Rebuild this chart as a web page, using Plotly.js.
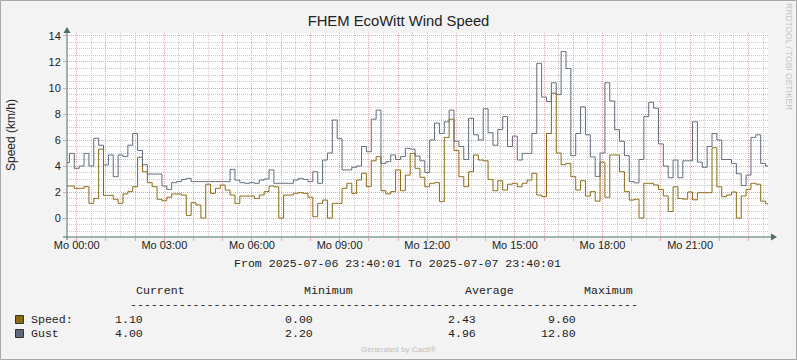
<!DOCTYPE html>
<html><head><meta charset="utf-8">
<script src="https://cdn.plot.ly/plotly-3.0.1.min.js"></script>
<style>html,body{margin:0;padding:0;background:#f3f3f3;} #chart{width:797px;height:360px;}</style>
</head><body><div id="chart"></div>
<script>
// ---- data (10-minute samples starting 2025-07-06 23:40:01) ----
const startTime = Date.UTC(2025, 6, 6, 23, 40, 1);
const stepMinutes = 10;

const speed = [2.46,2.46,2.28,2.28,2.41,1.13,1.5,5.3,1.74,1.74,
1.44,1.13,1.85,2.03,2.41,4.67,3.56,2.72,2.41,1.44,
1.33,1.6,1.85,1.85,1.77,0.2,1.18,1.0,0,2.6,
1.9,2.28,2.54,2.15,1.77,1.13,1.69,1.69,1.69,1.5,
1.77,2.03,2.46,2.4,0,1.77,1.77,1.9,1.95,1.9,
1.6,0.1,1.13,1.38,0,1.13,1.13,2.28,2.67,1.9,
2.92,3.44,2.41,4.4,4.72,2.1,1.85,2.03,3.7,2.1,
3.3,4.97,3.82,3.13,2.41,2.67,2.72,1.26,6.2,7.6,
5.2,3.18,2.41,3.56,4.85,4.46,4.4,2.97,2.1,2.87,
2.15,2.6,2.67,2.4,2.67,2.92,3.44,1.77,1.64,6.5,
9.6,5.0,4.1,4.2,3.18,2.15,2.87,1.69,2.03,1.3,
4.3,1.6,4.85,4.85,3.56,2.03,1.38,1.44,0,2.67,
2.67,2.54,2.2,1.7,0.5,2.4,1.5,1.45,2.0,1.4,
1.95,1.95,1.95,5.4,2.4,1.64,1.77,2.0,0,1.7,
2.2,2.67,2.6,1.3,1.1];

const gust = [4.26,4.97,3.82,4.0,4.97,4.0,6.13,5.6,4.08,4.85,
3.18,4.85,4.72,5.6,6.5,5.2,4.1,3.38,3.38,3.38,
2.46,2.2,2.72,2.8,2.97,3.05,2.8,2.8,2.8,2.8,
2.8,2.8,2.8,2.8,3.74,2.92,2.72,2.67,2.72,2.67,
2.92,3.0,3.7,2.67,2.67,2.67,2.67,2.92,3.05,2.97,
2.8,3.56,2.67,4.46,5.0,7.54,6.1,3.7,3.7,3.9,
4.0,5.5,5.1,7.6,8.3,4.2,4.33,4.85,4.5,4.72,
5.36,5.3,4.77,4.4,3.5,6.0,7.3,6.5,7.4,8.3,
5.9,5.5,4.5,7.67,6.4,6.0,8.4,6.56,5.6,6.8,
7.8,5.5,6.3,4.46,4.97,4.97,6.5,11.9,9.3,8.95,
10.4,9.5,12.8,11.5,4.8,6.5,8.55,6.4,4.7,3.2,
5.0,10.4,9.0,6.8,5.9,4.8,2.8,2.7,4.5,7.8,
8.9,8.45,5.7,4.0,3.1,4.46,3.1,4.4,4.4,7.4,
4.3,3.9,5.5,6.5,6.0,4.5,4.5,4.2,3.4,2.5,
3.3,6.2,6.4,4.2,4.0];

const xLabels = ['Mo 00:00','Mo 03:00','Mo 06:00','Mo 09:00','Mo 12:00','Mo 15:00','Mo 18:00','Mo 21:00'];
const seriesNames = ['Speed:', 'Gust'];
const legendHeaders = ['Current', 'Minimum', 'Average', 'Maximum'];
const speedStats = ['1.10', '0.00', '2.43', '9.60'];
const gustStats = ['4.00', '2.20', '4.96', '12.80'];
const titleText = 'FHEM EcoWitt Wind Speed';
const yTitle = 'Speed (km/h)';
const rangeText = 'From 2025-07-06 23:40:01 To 2025-07-07 23:40:01';

// ---- styles ----
const speedColor = '#8a6a12';
const gustColor = '#5f6b7c';
const majorGrid = '#e8a4a4';
const minorGrid = '#c9c9c9';
const axisColor = '#4f6f62';
const mono = 'Liberation Mono, monospace';
const sans = 'Liberation Sans, Arial, sans-serif';

function fmt(ms){ return new Date(ms).toISOString().replace('T',' ').slice(0,19); }
const times = speed.map((_, i) => fmt(startTime + i * stepMinutes * 60000));
const xStart = fmt(startTime), xEnd = fmt(startTime + 24*3600000);

const tickvals = [], ticktext = [];
for (let h = 0; h < 24; h++) {
  tickvals.push('2025-07-07 ' + String(h).padStart(2,'0') + ':00:00');
  ticktext.push(h % 3 === 0 ? xLabels[h/3] : '');
}

// pixel -> paper helpers
const L = 67, R = 768, T = 33, B = 237;
const px = x => (x - L) / (R - L);
const py = y => (B - y) / (B - T);

const traces = [
  {x: times, y: speed, type: 'scatter', mode: 'lines', line: {color: speedColor, width: 1, shape: 'hvh'}, hoverinfo: 'skip'},
  {x: times, y: gust, type: 'scatter', mode: 'lines', line: {color: gustColor, width: 1, shape: 'hvh'}, hoverinfo: 'skip'}
];

const ann = [];
function txt(text, x, y, opts) {
  ann.push(Object.assign({text: text, xref: 'paper', yref: 'paper', x: px(x), y: py(y),
    showarrow: false, xanchor: 'left', yanchor: 'middle', borderpad: 0,
    font: {family: mono, size: 11.6, color: '#222'}}, opts || {}));
}
txt(rangeText, 233, 263);
const headerX = [135, 303, 464, 583];
legendHeaders.forEach((h, k) => txt(h, headerX[k], 290));
txt('-'.repeat(73), 128.5, 304.5);
txt(seriesNames[0], 30, 319);
txt(seriesNames[1], 30, 333);
const valRight = [143.5, 313.5, 477, 576.5];
speedStats.forEach((v, k) => txt(v, valRight[k], 319, {xanchor: 'right'}));
gustStats.forEach((v, k) => txt(v, valRight[k], 333, {xanchor: 'right'}));
txt('Generated by Cacti®', 398, 349, {xanchor: 'center', font: {family: sans, size: 8, color: '#bdbdbd'}});
txt('RRDTOOL / TOBI OETIKER', 789, 56, {xanchor: 'center', textangle: 90, font: {family: sans, size: 8.5, color: '#c4c4c4'}});

const shapes = [
  {type: 'rect', xref: 'paper', yref: 'paper', x0: px(0.5), x1: px(796.5), y0: py(359.5), y1: py(0.5), line: {color: '#a8a8a8', width: 1}},
  {type: 'line', xref: 'paper', yref: 'paper', x0: px(67), x1: px(67), y0: py(240), y1: py(32), line: {color: axisColor, width: 1}},
  {type: 'line', xref: 'paper', yref: 'paper', x0: px(63), x1: px(772), y0: py(237), y1: py(237), line: {color: axisColor, width: 1}},
  {type: 'path', xref: 'paper', yref: 'paper', path: `M ${px(67)} ${py(27)} L ${px(63.5)} ${py(33)} L ${px(70.5)} ${py(33)} Z`, fillcolor: axisColor, line: {width: 0}},
  {type: 'path', xref: 'paper', yref: 'paper', path: `M ${px(777)} ${py(237)} L ${px(771)} ${py(233.5)} L ${px(771)} ${py(240.5)} Z`, fillcolor: axisColor, line: {width: 0}},
  {type: 'rect', xref: 'paper', yref: 'paper', x0: px(15.5), x1: px(23.5), y0: py(323.5), y1: py(315.5), fillcolor: speedColor, line: {color: '#333', width: 1}},
  {type: 'rect', xref: 'paper', yref: 'paper', x0: px(15.5), x1: px(23.5), y0: py(337.5), y1: py(329.5), fillcolor: gustColor, line: {color: '#333', width: 1}}
];

const layout = {
  width: 797, height: 360,
  margin: {l: L, r: 797 - R, t: T, b: 360 - B, pad: 0},
  paper_bgcolor: '#f3f3f3', plot_bgcolor: '#ffffff',
  showlegend: false,
  title: {text: titleText, x: 0.5, xref: 'container', xanchor: 'center', y: 1 - 21/360, yanchor: 'middle',
          font: {family: sans, size: 14.8, color: '#222'}},
  xaxis: {type: 'date', range: [xStart, xEnd], tickmode: 'array', tickvals: tickvals, ticktext: ticktext,
          showgrid: true, gridcolor: majorGrid, griddash: '1px,1px', gridwidth: 1,
          ticks: 'outside', ticklen: 3, tickcolor: majorGrid, showline: false, zeroline: false,
          tickfont: {family: sans, size: 11, color: '#222'}, ticklabelstandoff: -5, automargin: false,
          minor: {dtick: 1800000, tick0: '2025-07-07 00:00:00', showgrid: true, gridcolor: minorGrid, griddash: '1px,1px', gridwidth: 1, ticks: ''}},
  yaxis: {range: [-1.46, 14.23], tick0: 0, dtick: 2, showgrid: true, gridcolor: majorGrid, griddash: '1px,1px', gridwidth: 1,
          ticks: 'outside', ticklen: 3, tickcolor: majorGrid, showline: false, zeroline: false,
          tickfont: {family: sans, size: 11, color: '#222'}, automargin: false,
          title: {text: yTitle, font: {family: sans, size: 12, color: '#222'}, standoff: 30},
          minor: {dtick: 0.5, tick0: 0, showgrid: true, gridcolor: minorGrid, griddash: '1px,1px', gridwidth: 1, ticks: ''}},
  annotations: ann,
  shapes: shapes
};

Plotly.newPlot('chart', traces, layout, {staticPlot: true, displayModeBar: false});
</script></body></html>
